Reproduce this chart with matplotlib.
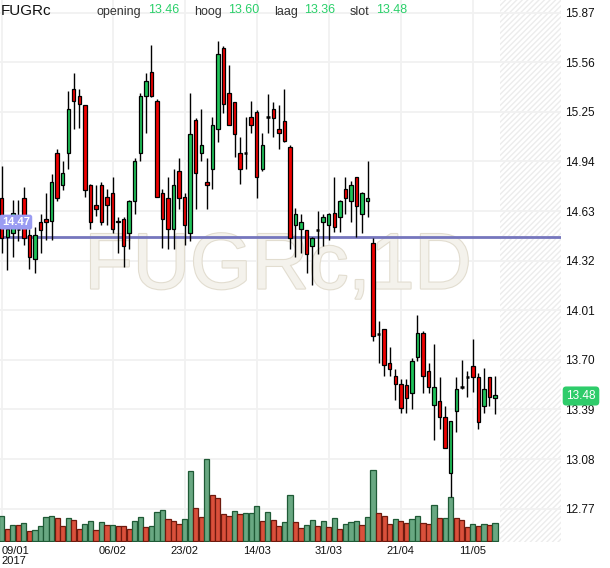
import matplotlib
matplotlib.use("Agg")
import matplotlib.pyplot as plt
import matplotlib.patheffects as pe
from matplotlib.patches import Rectangle

plt.rcParams['font.family'] = ['Liberation Sans', 'DejaVu Sans']
plt.rcParams['hatch.color'] = '#ebebeb'
plt.rcParams['hatch.linewidth'] = 1.0

# daily candles, 09/01/2017 .. 17/05/2017
opens = [14.71, 14.47, 14.49, 14.52, 14.71, 14.48, 14.33, 14.56, 14.58, 14.57,
         14.99, 14.79, 14.99, 15.39, 15.35, 15.29, 14.79, 14.67, 14.79, 14.72,
         14.74, 14.57, 14.58, 14.49, 14.69, 14.99, 15.35, 15.50, 15.32, 14.74,
         14.71, 14.52, 14.88, 14.72, 14.49, 15.20, 14.99, 14.81, 14.89, 15.14,
         15.65, 15.37, 15.31, 14.99, 14.99, 15.22, 15.25, 14.89, 15.22, 15.27,
         15.14, 15.19, 15.03, 14.54, 14.52, 14.51, 14.41, 14.51, 14.56, 14.54,
         14.62, 14.59, 14.77, 14.69, 14.84, 14.61, 14.69, 14.43, 13.86, 13.89,
         13.68, 13.60, 13.55, 13.54, 13.49, 13.72, 13.87, 13.63, 13.42, 13.44,
         13.34, 12.99, 13.38, 13.53, 13.59, 13.66, 13.59, 13.41, 13.59, 13.46]
highs = [14.91, 14.54, 14.70, 14.70, 14.78, 14.52, 14.53, 14.61, 14.74, 14.86,
         15.02, 14.94, 15.38, 15.49, 15.39, 15.29, 14.80, 14.79, 14.81, 14.77,
         14.84, 14.59, 14.59, 14.70, 14.96, 15.37, 15.49, 15.67, 15.33, 14.77,
         14.84, 14.89, 14.96, 14.74, 15.37, 15.21, 15.27, 14.96, 15.22, 15.69,
         15.66, 15.54, 15.31, 15.09, 15.22, 15.32, 15.26, 15.12, 15.36, 15.31,
         15.29, 15.39, 15.04, 14.65, 14.61, 14.51, 14.47, 14.63, 14.61, 14.62,
         14.84, 14.70, 14.84, 14.82, 14.84, 14.75, 14.94, 14.46, 13.94, 13.89,
         13.78, 13.64, 13.58, 13.58, 13.71, 13.98, 13.88, 13.68, 13.80, 13.59,
         13.41, 13.32, 13.59, 13.70, 13.63, 13.83, 13.62, 13.65, 13.59, 13.60]
lows = [14.37, 14.26, 14.34, 14.44, 14.42, 14.27, 14.24, 14.37, 14.45, 14.45,
        14.69, 14.76, 14.89, 15.14, 15.15, 14.72, 14.52, 14.60, 14.54, 14.54,
        14.49, 14.37, 14.28, 14.39, 14.61, 14.94, 15.12, 15.34, 14.72, 14.40,
        14.39, 14.39, 14.64, 14.42, 14.44, 14.64, 14.94, 14.64, 14.77, 15.06,
        15.24, 15.17, 14.97, 14.80, 14.89, 15.12, 14.71, 14.88, 15.12, 15.09,
        15.02, 15.06, 14.39, 14.34, 14.37, 14.24, 14.17, 14.36, 14.41, 14.45,
        14.50, 14.50, 14.61, 14.56, 14.47, 14.49, 14.59, 13.82, 13.68, 13.60,
        13.60, 13.45, 13.37, 13.37, 13.39, 13.69, 13.49, 13.49, 13.20, 13.27,
        13.15, 12.84, 13.25, 13.52, 13.47, 13.50, 13.27, 13.37, 13.41, 13.36]
closes = [14.46, 14.52, 14.62, 14.52, 14.46, 14.34, 14.48, 14.51, 14.56, 14.81,
          14.71, 14.87, 15.27, 15.32, 15.30, 14.76, 14.56, 14.64, 14.56, 14.67,
          14.52, 14.56, 14.41, 14.69, 14.94, 15.35, 15.44, 15.35, 14.72, 14.58,
          14.52, 14.79, 14.71, 14.54, 15.11, 14.87, 15.04, 14.79, 15.17, 15.61,
          15.30, 15.17, 15.11, 14.89, 14.99, 15.17, 14.84, 15.04, 15.22, 15.21,
          15.12, 15.07, 14.46, 14.61, 14.56, 14.36, 14.46, 14.51, 14.59, 14.61,
          14.53, 14.69, 14.71, 14.79, 14.66, 14.74, 14.71, 13.85, 13.86, 13.67,
          13.64, 13.55, 13.40, 13.46, 13.69, 13.87, 13.60, 13.53, 13.53, 13.34,
          13.15, 13.32, 13.52, 13.53, 13.59, 13.59, 13.31, 13.52, 13.47, 13.48]

# volume (relative units) and bar colour (g = up, r = down)
volume = [25, 12, 16, 16, 18, 10, 11, 15, 24, 25,
          23, 15, 23, 21, 12, 17, 20, 11, 19, 16,
          16, 15, 15, 12, 20, 24, 14, 15, 29, 31,
          22, 20, 17, 22, 70, 33, 24, 82, 46, 43,
          27, 25, 30, 27, 28, 28, 35, 20, 29, 21,
          15, 19, 46, 19, 13, 16, 21, 15, 20, 14,
          23, 12, 17, 19, 20, 16, 24, 71, 28, 25,
          17, 22, 20, 18, 22, 25, 18, 17, 36, 23,
          23, 44, 23, 21, 14, 17, 15, 17, 16, 18]
vol_dir = ("grgrgrgggg" "rrgrrggrgr" "grrrggrggg" "rrrggrrgrr" "rrgrgggrgr"
           "rggrrggrgr" "grgggrggrr" "rgrrggrrgr" "ggrrrgrgrg")

tick_idx = [0, 20, 33, 46, 59, 72, 85]
tick_labels = ['09/01\n2017', '06/02', '23/02', '14/03', '31/03', '21/04', '11/05']
price_ticks = [15.87, 15.56, 15.25, 14.94, 14.63, 14.32, 14.01, 13.70, 13.39, 13.08, 12.77]
level = 14.47
last = dict(opening=13.46, hoog=13.60, laag=13.36, slot=13.48)

UP, DOWN = '#1fc45a', '#f00000'

fig = plt.figure(figsize=(6.1, 5.68), dpi=100)
ax = fig.add_axes([0, 26 / 568, 561 / 610, 542 / 568])
n = len(closes)
ax.set_xlim(-0.31, 100.9)
ax.set_ylim(12.5615, 15.949)
for s in ax.spines.values():
    s.set_visible(False)

# future (empty) area
ax.axvspan(89.9, 100.9, facecolor='white', hatch='//////', edgecolor='#ececec', lw=0, zorder=0)

ax.set_yticks(price_ticks)
ax.set_yticklabels(['%.2f' % p for p in price_ticks])
ax.yaxis.tick_right()
ax.set_xticks(tick_idx)
ax.set_xticklabels(tick_labels)
ax.tick_params(axis='y', length=0, pad=3, labelsize=8.5, labelcolor='#111111')
ax.tick_params(axis='x', length=0, pad=3, labelsize=8, labelcolor='#111111')
first = ax.get_xticklabels()[0]
first.set_ha('left')
first.set_linespacing(0.95)
ax.grid(True, color='#f1f1f1', lw=1.3)
ax.set_axisbelow(True)

ax.text(0.4955, 0.5055, 'FUGRc,1D', transform=ax.transAxes, ha='center', va='center',
        fontsize=57, color='#f4f2ec', zorder=1,
        path_effects=[pe.Stroke(linewidth=1.6, foreground='#e2ddd0'), pe.Normal()])

# volume bars along the bottom
vscale = max(volume) / (82 / 542)
for i, v in enumerate(volume):
    up = vol_dir[i] == 'g'
    ax.add_patch(Rectangle((i - 0.47, 0.002), 0.94, v / vscale,
                           transform=ax.get_xaxis_transform(),
                           facecolor='#69a882' if up else '#da503b',
                           edgecolor='#1f5a36' if up else '#6e1a0e', lw=0.9, zorder=2))

ax.axhline(level, color='#7576bd', lw=2, zorder=2.5)

# candles
for i in range(n):
    o, h, l, c = opens[i], highs[i], lows[i], closes[i]
    ax.vlines(i, l, h, color='black', lw=1, zorder=3)
    if abs(c - o) < 0.005:
        ax.hlines(o, i - 0.32, i + 0.32, color='black', lw=1.8, zorder=4)
    else:
        ax.add_patch(Rectangle((i - 0.31, min(o, c)), 0.62, abs(c - o),
                               facecolor=UP if c > o else DOWN,
                               edgecolor='black', lw=0.9, zorder=4))

ax.text(0.012, 14.561, '14.47', ha='left', va='center', fontsize=8, fontweight='bold',
        color='white', zorder=6,
        bbox=dict(boxstyle='round,pad=0.22', fc='#9a9cf2', ec='none'))

# header
fig.text(1 / 610, 1 - 11 / 568, 'FUGRc', fontsize=11, va='center', ha='left', color='#111111')
hx = [(96, 148), (194, 228), (274, 304), (350, 376)]
for (lx, vx), (name, val) in zip(hx, last.items()):
    fig.text(lx / 610, 1 - 12 / 568, name, fontsize=9, va='center', color='#333333')
    fig.text(vx / 610, 1 - 10 / 568, '%.2f' % val, fontsize=9, va='center', color='#2ad06a')

# last price marker on the right axis
fig.text(581 / 610, 1 - 396 / 568, '%.2f' % last['slot'], fontsize=8.5, color='white',
         ha='center', va='center', zorder=10,
         bbox=dict(boxstyle='round,pad=0.3', fc='#2ecc6a', ec='none'))

fig.savefig('out.png', dpi=100)
